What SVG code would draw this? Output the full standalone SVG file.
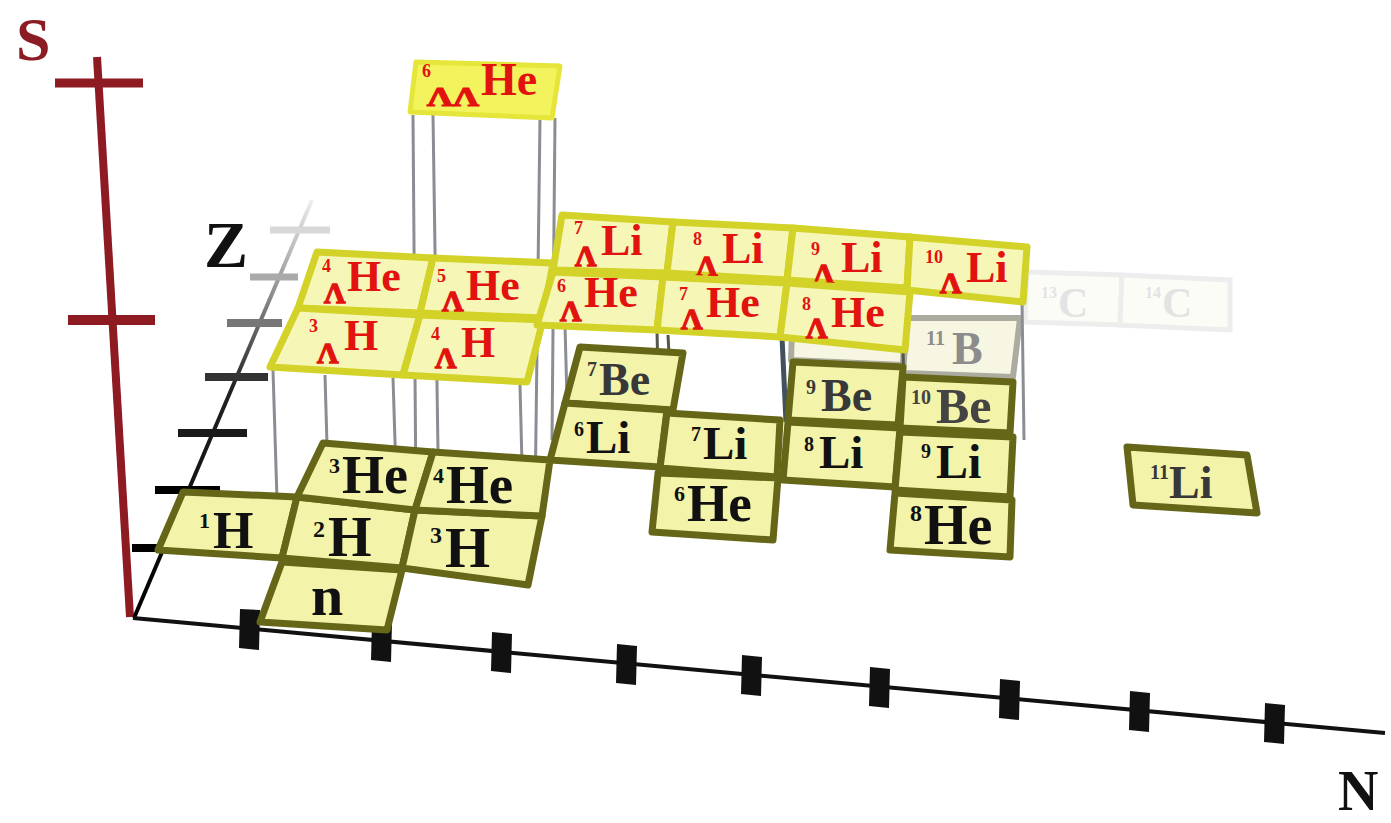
<svg xmlns="http://www.w3.org/2000/svg" width="1391" height="823" viewBox="0 0 1391 823">
<defs>
<linearGradient id="zg" gradientUnits="userSpaceOnUse" x1="137" y1="618" x2="312" y2="200">
<stop offset="0" stop-color="#000"/><stop offset="0.55" stop-color="#222"/><stop offset="0.8" stop-color="#999"/><stop offset="1" stop-color="#eee"/>
</linearGradient>
<style>
text{font-family:"Liberation Serif","Times New Roman",serif;font-weight:bold}
.lo polygon{fill:#f3f3aa;stroke:#666619;stroke-width:7;stroke-linejoin:round}
.up polygon{fill:#f6f6b6;stroke:#d2d228;stroke-width:7;stroke-linejoin:round}
.fd polygon{fill:#f6f6e2;stroke:#ababa0;stroke-width:6;stroke-linejoin:round}
.gh polygon{fill:#fcfcf6;stroke:#ededed;stroke-width:5}
.k{fill:#111}.g{fill:#383838}.r{fill:#e2120e}.lg{fill:#8c8c8c}.xg{fill:#e3e3e3}
.pl{stroke:#8a8e94;stroke-width:3;fill:none}
.pd{stroke:#55574a;stroke-width:3;fill:none}
.tk{fill:#111}
.s{font-size:20px}
.lam{font-size:30px;stroke:#e2120e;stroke-width:1.3px}
</style>
</defs>
<rect width="1391" height="823" fill="#fff"/>

<g id="axes">
<line x1="97" y1="57" x2="130" y2="617" stroke="#8e1b22" stroke-width="8"/>
<line x1="55" y1="83" x2="143" y2="83" stroke="#8e1b22" stroke-width="9"/>
<line x1="68" y1="320" x2="155" y2="320" stroke="#8e1b22" stroke-width="10"/>
<line x1="134" y1="618" x2="312" y2="200" stroke="url(#zg)" stroke-width="4"/>
<line x1="132" y1="548" x2="170" y2="548" stroke="#000" stroke-width="8"/>
<line x1="155" y1="490" x2="220" y2="490" stroke="#000" stroke-width="8"/>
<line x1="178" y1="433" x2="247" y2="433" stroke="#1a1a1a" stroke-width="8"/>
<line x1="205" y1="377" x2="268" y2="377" stroke="#333" stroke-width="8"/>
<line x1="227" y1="323" x2="282" y2="323" stroke="#777" stroke-width="8"/>
<line x1="250" y1="277" x2="298" y2="277" stroke="#aaa" stroke-width="7"/>
<line x1="270" y1="230" x2="330" y2="230" stroke="#d8d8d8" stroke-width="7"/>
<line x1="133" y1="618" x2="1385" y2="733" stroke="#111" stroke-width="4"/>
<polygon class="tk" points="240,609 260,610 259,650 239,648"/>
<polygon class="tk" points="372,621 392,622 391,662 371,660"/>
<polygon class="tk" points="492,632 512,634 511,673 491,671"/>
<polygon class="tk" points="617,644 637,646 636,685 616,683"/>
<polygon class="tk" points="742,655 762,657 761,696 741,694"/>
<polygon class="tk" points="870,667 890,669 889,708 869,706"/>
<polygon class="tk" points="1000,679 1020,681 1019,720 999,718"/>
<polygon class="tk" points="1130,691 1150,693 1149,732 1129,730"/>
<polygon class="tk" points="1265,703 1285,705 1284,744 1264,742"/>
<text x="16" y="60" font-size="62" fill="#8b1c24">S</text>
<text x="204" y="267" font-size="66" class="k">Z</text>
<text x="1338" y="810" font-size="56" class="k">N</text>
</g>

<g id="far-cells">
<g id="c13C" class="gh"><polygon points="1027,272 1122,275 1120,325 1025,322"/>
<text class="xg"><tspan x="1041" y="298" font-size="16">13</tspan><tspan x="1058" y="317" font-size="42">C</tspan></text></g>
<g id="c14C" class="gh"><polygon points="1122,275 1230,280 1230,330 1120,325"/>
<text class="xg"><tspan x="1145" y="298" font-size="16">14</tspan><tspan x="1162" y="317" font-size="42">C</tspan></text></g>
<g id="c10B" class="fd"><polygon points="793,300 905,305 903,365 791,360"/></g>
<g id="c11B" class="fd"><polygon points="907,318 1020,318 1013,377 903,373"/>
<text class="lg"><tspan x="926" y="345" class="s">11</tspan><tspan x="952" y="364" font-size="46">B</tspan></text></g>
</g>

<g id="connectors">
<line class="pl" x1="413" y1="115" x2="416" y2="500"/>
<line class="pl" x1="433" y1="115" x2="438" y2="452"/>
<line class="pl" x1="540" y1="118" x2="535" y2="505"/>
<line class="pl" x1="555" y1="118" x2="552" y2="440"/>
<line class="pl" x1="273" y1="370" x2="277" y2="500"/>
<line class="pl" x1="325" y1="375" x2="327" y2="445"/>
<line class="pl" x1="393" y1="378" x2="397" y2="505"/>
<line class="pl" x1="520" y1="385" x2="522" y2="465"/>
<line class="pl" x1="565" y1="325" x2="567" y2="400"/>
<line class="pd" x1="657" y1="330" x2="660" y2="470"/>
<line class="pd" x1="668" y1="335" x2="672" y2="412"/>
<line x1="782" y1="337" x2="786" y2="422" stroke="#43505e" stroke-width="5"/>
<line class="pd" x1="903" y1="350" x2="905" y2="430"/>
<line class="pl" x1="1022" y1="300" x2="1024" y2="440"/>
</g>

<g id="lower-layer">
<g id="c1H" class="lo"><polygon points="183,492 297,497 282,558 158,550"/>
<text class="k"><tspan x="199" y="528" font-size="22">1</tspan><tspan x="213" y="548" font-size="52">H</tspan></text></g>
<g id="c2H" class="lo"><polygon points="297,497 415,510 402,568 282,558"/>
<text class="k"><tspan x="313" y="537" font-size="24">2</tspan><tspan x="328" y="556" font-size="56">H</tspan></text></g>
<g id="c3H" class="lo"><polygon points="415,510 542,516 528,585 402,568"/>
<text class="k"><tspan x="430" y="543" font-size="24">3</tspan><tspan x="445" y="567" font-size="58">H</tspan></text></g>
<g id="cn" class="lo"><polygon points="282,562 402,570 387,630 260,622"/>
<text class="k" x="311" y="615" font-size="58">n</text></g>
<g id="c3He" class="lo"><polygon points="323,443 433,452 415,510 297,497"/>
<text class="k"><tspan x="329" y="473" font-size="22">3</tspan><tspan x="342" y="493" font-size="54">He</tspan></text></g>
<g id="c4He" class="lo"><polygon points="433,452 550,460 542,516 415,510"/>
<text class="k"><tspan x="433" y="483" font-size="22">4</tspan><tspan x="446" y="503" font-size="55">He</tspan></text></g>
<g id="c7Be" class="lo"><polygon points="580,347 683,353 673,410 565,403"/>
<text class="g"><tspan x="587" y="376" class="s">7</tspan><tspan x="599" y="395" font-size="46">Be</tspan></text></g>
<g id="c6Li" class="lo"><polygon points="565,403 667,410 660,467 550,460"/>
<text class="k"><tspan x="574" y="436" class="s">6</tspan><tspan x="586" y="453" font-size="47">Li</tspan></text></g>
<g id="c7Li" class="lo"><polygon points="667,413 780,420 777,477 660,468"/>
<text class="k"><tspan x="691" y="441" class="s">7</tspan><tspan x="703" y="459" font-size="47">Li</tspan></text></g>
<g id="c6He" class="lo"><polygon points="658,473 778,478 773,540 652,532"/>
<text class="k"><tspan x="674" y="501" font-size="22">6</tspan><tspan x="687" y="521" font-size="53">He</tspan></text></g>
<g id="c9Be" class="lo"><polygon points="793,362 903,367 898,425 788,420"/>
<text class="g"><tspan x="806" y="394" class="s">9</tspan><tspan x="821" y="411" font-size="46">Be</tspan></text></g>
<g id="c8Li" class="lo"><polygon points="788,422 900,428 895,487 783,480"/>
<text class="k"><tspan x="804" y="451" class="s">8</tspan><tspan x="819" y="468" font-size="47">Li</tspan></text></g>
<g id="c10Be" class="lo"><polygon points="903,377 1013,382 1010,433 900,428"/>
<text fill="#444"><tspan x="911" y="404" class="s">10</tspan><tspan x="936" y="423" font-size="50">Be</tspan></text></g>
<g id="c9Li" class="lo"><polygon points="900,432 1013,437 1010,497 895,490"/>
<text class="k"><tspan x="921" y="458" class="s">9</tspan><tspan x="936" y="478" font-size="48">Li</tspan></text></g>
<g id="c8He" class="lo"><polygon points="895,493 1012,500 1010,557 890,550"/>
<text class="k"><tspan x="910" y="521" font-size="24">8</tspan><tspan x="924" y="544" font-size="56">He</tspan></text></g>
<g id="c11Li" class="lo"><polygon points="1127,447 1247,455 1257,513 1133,505"/>
<text class="g"><tspan x="1150" y="479" class="s">11</tspan><tspan x="1169" y="498" font-size="46">Li</tspan></text></g>
</g>

<g id="upper-layer">
<g id="h4LHe" class="up"><polygon points="317,252 433,258 420,313 298,308"/>
<text class="r"><tspan x="322" y="272" font-size="18">4</tspan><tspan x="324" y="303" class="lam">Λ</tspan><tspan x="347" y="291" font-size="44">He</tspan></text></g>
<g id="h5LHe" class="up"><polygon points="433,258 553,263 543,318 420,313"/>
<text class="r"><tspan x="437" y="282" font-size="18">5</tspan><tspan x="442" y="311" class="lam">Λ</tspan><tspan x="466" y="300" font-size="44">He</tspan></text></g>
<g id="h3LH" class="up"><polygon points="298,308 420,315 403,375 270,367"/>
<text class="r"><tspan x="309" y="332" font-size="18">3</tspan><tspan x="317" y="363" class="lam">Λ</tspan><tspan x="344" y="350" font-size="44">H</tspan></text></g>
<g id="h4LH" class="up"><polygon points="420,315 543,320 527,382 403,375"/>
<text class="r"><tspan x="431" y="340" font-size="18">4</tspan><tspan x="435" y="368" class="lam">Λ</tspan><tspan x="461" y="357" font-size="44">H</tspan></text></g>
<g id="h7LLi" class="up"><polygon points="562,215 673,222 667,273 553,270"/>
<text class="r"><tspan x="574" y="234" font-size="18">7</tspan><tspan x="575" y="266" class="lam">Λ</tspan><tspan x="601" y="255" font-size="44">Li</tspan></text></g>
<g id="h8LLi" class="up"><polygon points="673,222 793,228 787,280 667,273"/>
<text class="r"><tspan x="693" y="245" font-size="18">8</tspan><tspan x="696" y="276" class="lam">Λ</tspan><tspan x="722" y="263" font-size="44">Li</tspan></text></g>
<g id="h9LLi" class="up"><polygon points="793,228 910,237 907,288 787,280"/>
<text class="r"><tspan x="811" y="255" font-size="18">9</tspan><tspan x="813" y="284" class="lam">Λ</tspan><tspan x="841" y="272" font-size="44">Li</tspan></text></g>
<g id="h10LLi" class="up"><polygon points="910,237 1027,247 1023,302 907,290"/>
<text class="r"><tspan x="925" y="263" font-size="18">10</tspan><tspan x="940" y="293" class="lam">Λ</tspan><tspan x="966" y="282" font-size="44">Li</tspan></text></g>
<g id="h6LHe" class="up"><polygon points="553,272 663,277 657,330 537,325"/>
<text class="r"><tspan x="557" y="292" font-size="18">6</tspan><tspan x="560" y="321" class="lam">Λ</tspan><tspan x="584" y="307" font-size="44">He</tspan></text></g>
<g id="h7LHe" class="up"><polygon points="663,277 787,283 780,337 657,330"/>
<text class="r"><tspan x="679" y="300" font-size="18">7</tspan><tspan x="681" y="329" class="lam">Λ</tspan><tspan x="706" y="317" font-size="44">He</tspan></text></g>
<g id="h8LHe" class="up"><polygon points="787,283 910,292 905,350 780,337"/>
<text class="r"><tspan x="802" y="310" font-size="18">8</tspan><tspan x="806" y="338" class="lam">Λ</tspan><tspan x="831" y="327" font-size="44">He</tspan></text></g>
</g>

<g id="h6LLHe">
<polygon points="416,62 560,66 552,118 410,112" fill="#f3f35e" stroke="#e6e63a" stroke-width="5" stroke-linejoin="round"/>
<text class="r"><tspan x="422" y="77" font-size="18">6</tspan><tspan x="427" y="106" font-size="28" stroke="#e2120e" stroke-width="1.2" textLength="52" lengthAdjust="spacingAndGlyphs">ΛΛ</tspan><tspan x="481" y="95" font-size="46">He</tspan></text>
</g>
</svg>
